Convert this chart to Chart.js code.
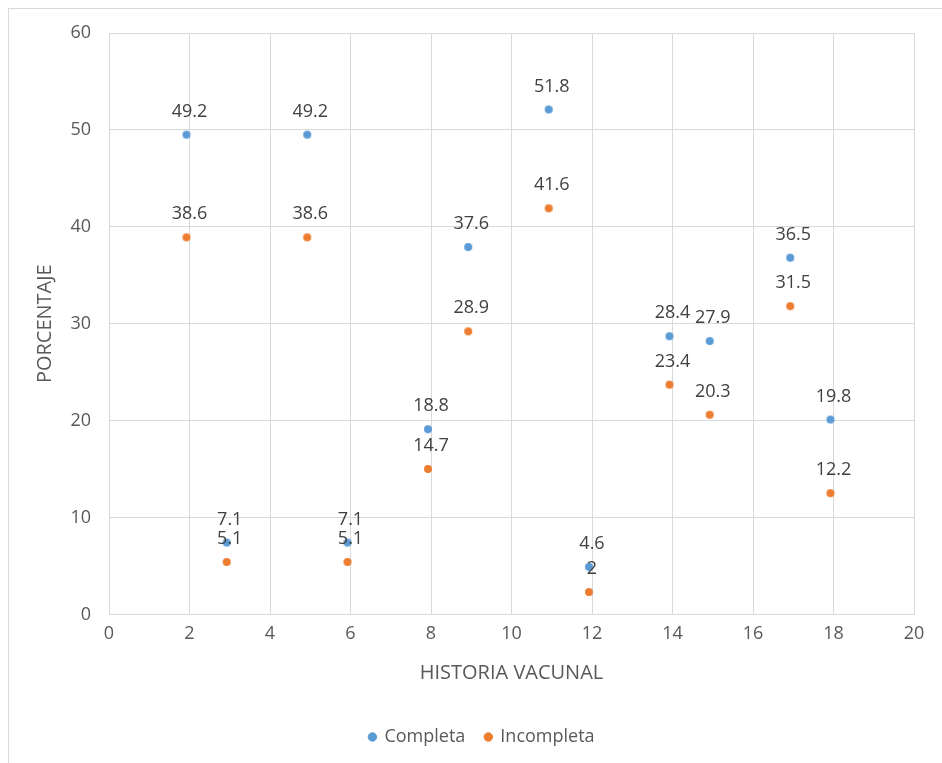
<!DOCTYPE html>
<html>
<head>
<meta charset="utf-8">
<script src="https://cdn.jsdelivr.net/npm/chart.js@4/dist/chart.umd.min.js"></script>
<style>
  html, body { margin: 0; padding: 0; background: #fff; }
  #wrap { position: relative; width: 942px; height: 763px; }
  #frame {
    position: absolute; left: 8px; top: 8px; right: 0; bottom: 0;
    border-top: 1px solid #D9D9D9; border-left: 1px solid #D9D9D9;
    pointer-events: none;
  }
  canvas { position: absolute; left: 0; top: 0; }
</style>
</head>
<body>
<div id="wrap">
  <canvas id="chart" width="942" height="763"></canvas>
  <div id="frame"></div>
</div>
<script>
// -- data ----------------------------------------------------------------

const xValues    = [2, 3, 5, 6, 8, 9, 11, 12, 14, 15, 17, 18];
const completa   = [49.2, 7.1, 49.2, 7.1, 18.8, 37.6, 51.8, 4.6, 28.4, 27.9, 36.5, 19.8];
const incompleta = [38.6, 5.1, 38.6, 5.1, 14.7, 28.9, 41.6, 2, 23.4, 20.3, 31.5, 12.2];
const xTicks     = [0, 2, 4, 6, 8, 10, 12, 14, 16, 18, 20];
const yTicks     = [0, 10, 20, 30, 40, 50, 60];

const C = {
  blue:   '#5B9BD5',
  orange: '#ED7D31',
  grid:   '#D9D9D9',
  tick:   '#595959',
  label:  '#404040',
};

const FONT = "'Open Sans', sans-serif";

// markers in the source sit a few px up/left of their value
function dot(color) {
  const c = document.createElement('canvas');
  c.width = 20; c.height = 20;
  const g = c.getContext('2d');
  g.fillStyle = color;
  g.beginPath();
  g.arc(7, 7, 4, 0, Math.PI * 2);
  g.fill();
  return c;
}

function pts(ys) { return xValues.map((x, i) => ({ x: x, y: ys[i] })); }

// -- value labels above each point ---------------------------------------

const valueLabels = {
  id: 'valueLabels',
  afterDatasetsDraw(chart) {
    const ctx = chart.ctx;
    ctx.save();
    ctx.font = '18px ' + FONT;
    ctx.fillStyle = C.label;
    ctx.textAlign = 'center';
    ctx.textBaseline = 'middle';
    chart.data.datasets.forEach((ds, di) => {
      chart.getDatasetMeta(di).data.forEach((el, i) => {
        ctx.fillText(String(ds.data[i].y), el.x, el.y - 26);
      });
    });
    ctx.restore();
  },
};

new Chart(document.getElementById('chart'), {
  type: 'scatter',
  data: {
    datasets: [
      {
        label: 'Completa',
        data: pts(completa),
        backgroundColor: C.blue,
        borderColor: C.blue,
        pointStyle: dot(C.blue),
        pointRadius: 4,
      },
      {
        label: 'Incompleta',
        data: pts(incompleta),
        backgroundColor: C.orange,
        borderColor: C.orange,
        pointStyle: dot(C.orange),
        pointRadius: 4,
      },
    ],
  },
  options: {
    responsive: false,
    animation: false,
    layout: { padding: { left: 50, right: 28, top: 33, bottom: 7 } },
    plugins: {
      legend: {
        position: 'bottom',
        labels: {
          usePointStyle: true,
          pointStyle: 'circle',
          boxWidth: 6,
          boxHeight: 6,
          padding: 20,
          color: C.tick,
          font: { family: FONT, size: 18 },
        },
      },
      tooltip: { enabled: false },
    },
    scales: {
      x: {
        type: 'linear',
        min: 0,
        max: 20,
        afterBuildTicks(s) { s.ticks = xTicks.map(v => ({ value: v })); },
        grid: { color: C.grid, lineWidth: 1, drawTicks: false },
        border: { color: C.grid },
        ticks: { color: C.tick, padding: 9, maxRotation: 0, font: { family: FONT, size: 18 } },
        title: {
          display: true,
          text: 'HISTORIA VACUNAL',
          color: C.tick,
          font: { family: FONT, size: 20 },
          padding: { top: 7, bottom: 23 },
        },
      },
      y: {
        min: 0,
        max: 60,
        afterBuildTicks(s) { s.ticks = yTicks.map(v => ({ value: v })); },
        afterFit(s) { s.width = 59; },
        grid: { color: C.grid, lineWidth: 1, drawTicks: false },
        border: { color: C.grid },
        ticks: { color: C.tick, padding: 18, font: { family: FONT, size: 18 } },
        title: {
          display: true,
          text: 'PORCENTAJE',
          color: C.tick,
          font: { family: FONT, size: 20 },
          padding: { top: -17, bottom: 0 },
        },
      },
    },
  },
  plugins: [valueLabels],
});
</script>
</body>
</html>
